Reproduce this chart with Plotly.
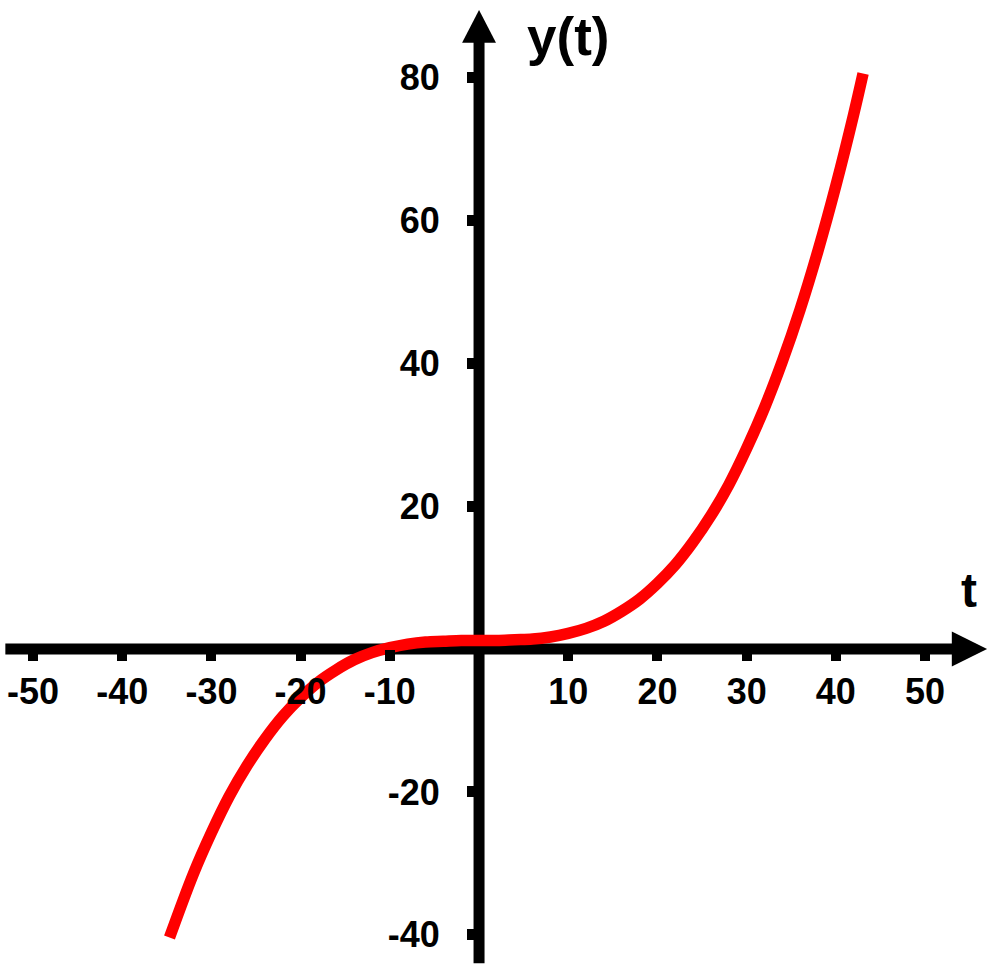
import plotly.graph_objects as go

# Data
t_vals = [-34.7, -32, -30, -28, -26, -24, -22, -20, -18, -16, -14, -12, -10, -8, -6, -4, -2,
          0, 2, 4, 6, 8, 10, 12, 14, 16, 18, 20, 22, 24, 26, 28, 30, 32, 34, 36, 38, 40, 42, 43.05]
y_vals = [-40.4, -31.4, -25.7, -20.6, -16.3, -12.6, -9.4, -6.8, -4.6, -2.9, -1.5, -0.5, 0.2, 0.7, 1.0, 1.1, 1.2,
          1.2, 1.2, 1.3, 1.4, 1.7, 2.2, 2.9, 3.9, 5.3, 7.0, 9.2, 11.8, 15.0, 18.7, 23.0, 28.1, 33.8, 40.3, 47.6, 55.8, 64.9, 74.9, 80.6]

x_ticks = [-50, -40, -30, -20, -10, 10, 20, 30, 40, 50]
y_ticks = [-40, -20, 20, 40, 60, 80]

x_range = [-53.7, 58.4]
y_range = [-45.5, 90.9]

FONT = "Arial, Liberation Sans, sans-serif"

fig = go.Figure()
fig.add_trace(go.Scatter(x=t_vals, y=y_vals, mode="lines",
                         line=dict(color="#ff0000", width=11.5, shape="spline"),
                         showlegend=False, hoverinfo="skip"))

# axis lines with arrowheads (data coordinates)
fig.add_shape(type="line", x0=-53.1, y0=0, x1=53.5, y1=0, xref="x", yref="y",
              line=dict(color="black", width=11), layer="below")
fig.add_shape(type="line", x0=0, y0=-44.0, x1=0, y1=85.5, xref="x", yref="y",
              line=dict(color="black", width=11), layer="below")
fig.add_shape(type="path", path="M 53.0 -2.45 L 56.95 0 L 53.0 2.45 Z", xref="x", yref="y",
              fillcolor="black", line=dict(color="black", width=0), layer="below")
fig.add_shape(type="path", path="M -1.9 84.9 L 0 89.5 L 1.9 84.9 Z", xref="x", yref="y",
              fillcolor="black", line=dict(color="black", width=0), layer="below")

y0_pos = (0 - y_range[0]) / (y_range[1] - y_range[0])
x0_pos = (0 - x_range[0]) / (x_range[1] - x_range[0])

fig.update_layout(
    width=1000, height=974,
    margin=dict(l=0, r=0, t=0, b=0),
    plot_bgcolor="white", paper_bgcolor="white",
    xaxis=dict(range=x_range, showgrid=False, zeroline=False, showline=False,
               anchor="free", position=y0_pos, side="bottom",
               tickmode="array", tickvals=x_ticks, ticktext=[str(v) for v in x_ticks],
               ticks="outside", ticklen=11, tickwidth=10, tickcolor="black",
               ticklabelstandoff=0,
               tickfont=dict(family=FONT, size=36, color="black", weight="bold")),
    yaxis=dict(range=y_range, showgrid=False, zeroline=False, showline=False,
               anchor="free", position=x0_pos, side="left",
               tickmode="array", tickvals=y_ticks, ticktext=[str(v) for v in y_ticks],
               ticks="outside", ticklen=12, tickwidth=11, tickcolor="black",
               ticklabelstandoff=20,
               tickfont=dict(family=FONT, size=36, color="black", weight="bold")),
    annotations=[
        dict(text="y(t)", x=9.98, y=85.85, xref="x", yref="y", showarrow=False,
             xanchor="center", yanchor="middle",
             font=dict(family=FONT, size=53, color="black", weight="bold")),
        dict(text="t", x=54.9, y=8.26, xref="x", yref="y", showarrow=False,
             xanchor="center", yanchor="middle",
             font=dict(family=FONT, size=48, color="black", weight="bold")),
    ],
)

fig.write_html("out.html")
